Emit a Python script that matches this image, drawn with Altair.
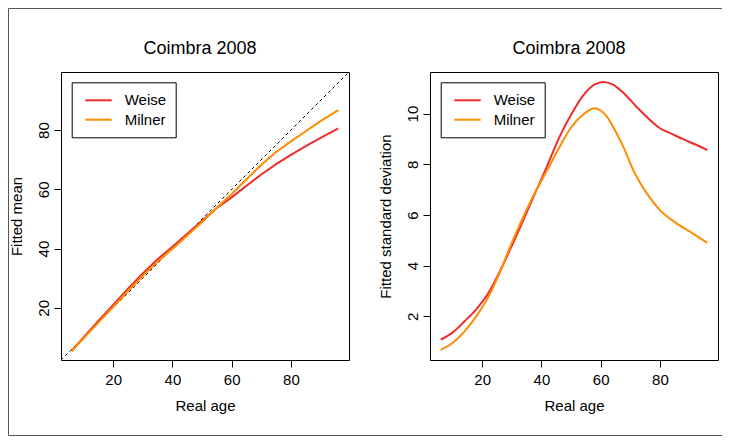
import altair as alt
import pandas as pd

# ---------------- data ----------------
series = ["Weise", "Milner"]
colors = ["#EE2C2C", "#FF8C00"]

mean_age = [6, 10, 15, 20, 25, 30, 35, 40, 45, 50, 55, 60, 65, 70, 75, 80, 85, 90, 96]
mean_weise = [5.5, 10.0, 15.6, 21.0, 26.5, 31.6, 36.4, 40.6, 45.0, 49.4, 53.7, 57.3,
              61.2, 65.0, 68.5, 71.6, 74.6, 77.4, 80.6]
mean_milner = [5.3, 9.7, 15.0, 20.3, 25.7, 30.8, 35.6, 39.9, 44.4, 49.0, 53.8, 58.4,
               63.4, 68.3, 72.6, 76.2, 79.6, 83.0, 86.7]

sd_age_weise = [6, 10, 14, 18, 22, 26, 30, 34, 38, 42, 46, 50, 54, 58, 61, 64, 68,
                72, 76, 80, 84, 88, 92, 96]
sd_weise = [1.08, 1.36, 1.80, 2.28, 2.90, 3.78, 4.78, 5.83, 6.90, 7.95, 9.05, 9.95,
            10.70, 11.15, 11.25, 11.15, 10.78, 10.28, 9.82, 9.42, 9.20, 8.98, 8.78, 8.56]

sd_age_milner = [6, 10, 14, 18, 22, 26, 30, 34, 38, 42, 46, 50, 54, 58, 60, 62, 65,
                 68, 71, 75, 80, 85, 90, 96]
sd_milner = [0.68, 0.95, 1.40, 2.00, 2.75, 3.75, 4.90, 5.95, 6.92, 7.78, 8.65, 9.45,
             9.95, 10.21, 10.12, 9.90, 9.30, 8.60, 7.77, 6.95, 6.19, 5.72, 5.35, 4.90]

diag = [2.4, 99.6]
x_ticks = [20, 40, 60, 80]
mean_ticks = [20, 40, 60, 80]
sd_ticks = [2, 4, 6, 8, 10]
x_domain = [2.4, 99.6]
mean_domain = [2.4, 99.6]
sd_domain = [0.28, 11.64]

# ---------------- tables ----------------
mean_df = pd.concat([
    pd.DataFrame({"age": mean_age, "value": mean_weise, "method": "Weise"}),
    pd.DataFrame({"age": mean_age, "value": mean_milner, "method": "Milner"}),
])
sd_df = pd.concat([
    pd.DataFrame({"age": sd_age_weise, "value": sd_weise, "method": "Weise"}),
    pd.DataFrame({"age": sd_age_milner, "value": sd_milner, "method": "Milner"}),
])
diag_df = pd.DataFrame({"age": diag, "value": diag})
one = pd.DataFrame({"k": [0]})

FONT = "Liberation Sans"
W = H = 288


def x_axis():
    return alt.Axis(values=x_ticks, title="Real age", grid=False, domain=False,
                    tickSize=7, tickColor="black", labelFontSize=15, labelFont=FONT,
                    labelColor="black", labelPadding=5, titleFont=FONT, titleFontSize=15,
                    titleFontWeight="normal", titleColor="black", titleY=50,
                    titleBaseline="alphabetic")


def y_axis(vals, title):
    return alt.Axis(values=vals, title=title, grid=False, domain=False, tickSize=7,
                    tickColor="black", labelFontSize=15, labelFont=FONT, labelColor="black",
                    labelAngle=270, labelAlign="center", labelBaseline="alphabetic",
                    labelPadding=5.5, titleFont=FONT, titleFontSize=15,
                    titleFontWeight="normal", titleColor="black", titleAngle=270,
                    titleX=-40, titleY=H / 2, titleAlign="center",
                    titleBaseline="alphabetic")


def legend():
    return alt.Legend(title=None, orient="none", legendX=10.7, legendY=10.3,
                      strokeColor="black", fillColor="white", padding=9.5,
                      symbolType="M-0.587,0H2.93", symbolSize=225, symbolStrokeWidth=2,
                      labelFontSize=15, labelFont=FONT, labelColor="black",
                      labelOffset=26.5, rowPadding=2.4)


def title():
    return alt.TitleParams("Coimbra 2008", fontSize=18, fontWeight="normal", font=FONT,
                           color="black", offset=19, baseline="alphabetic",
                           anchor="middle", frame="group", dx=-5, dy=19)


color = alt.Color("method:N", scale=alt.Scale(domain=series, range=colors), legend=legend())

left_lines = alt.Chart(mean_df).mark_line(strokeWidth=2).encode(
    x=alt.X("age:Q", scale=alt.Scale(domain=x_domain, nice=False, zero=False), axis=x_axis()),
    y=alt.Y("value:Q", scale=alt.Scale(domain=mean_domain, nice=False, zero=False),
            axis=y_axis(mean_ticks, "Fitted mean")),
    color=color,
    order=alt.Order("age:Q"),
)
left_diag = alt.Chart(diag_df).mark_line(strokeWidth=1, color="black", strokeDash=[3, 3],
                                         clip=True).encode(
    x=alt.X("age:Q"), y=alt.Y("value:Q"))

left = alt.layer(left_diag, left_lines).properties(width=W, height=H, title=title())

right_lines = alt.Chart(sd_df).mark_line(strokeWidth=2, interpolate="monotone").encode(
    x=alt.X("age:Q", scale=alt.Scale(domain=x_domain, nice=False, zero=False), axis=x_axis()),
    y=alt.Y("value:Q", scale=alt.Scale(domain=sd_domain, nice=False, zero=False),
            axis=y_axis(sd_ticks, "Fitted standard deviation")),
    color=color,
    order=alt.Order("age:Q"),
)
right = right_lines.properties(width=W, height=H, title=title())

panels = alt.hconcat(left, right, spacing=81, bounds="flush").resolve_scale(
    color="independent").resolve_legend(color="independent")

# thin frame around the whole figure (its origin is 1px left of the left plot)
BC = "#555555"
top_rule = alt.Chart(one).mark_rule(color=BC, strokeWidth=1).encode(
    x=alt.value(-51.5), x2=alt.value(662), y=alt.value(-63.5))
left_rule = alt.Chart(one).mark_rule(color=BC, strokeWidth=1).encode(
    x=alt.value(-51.5), y=alt.value(-63.5), y2=alt.value(363.5))
bottom_rule = alt.Chart(one).mark_rule(color=BC, strokeWidth=1).encode(
    x=alt.value(-51.5), x2=alt.value(662), y=alt.value(363.5))
frame = alt.layer(top_rule, left_rule, bottom_rule).properties(
    width=1, height=H, view=alt.ViewBackground(strokeOpacity=0, fillOpacity=0))

chart = alt.hconcat(frame, panels, spacing=0, bounds="flush").properties(
    padding=0, background="white").configure_view(stroke="black", strokeWidth=1)

chart.save("out.html", embed_options={"renderer": "svg", "actions": False})
